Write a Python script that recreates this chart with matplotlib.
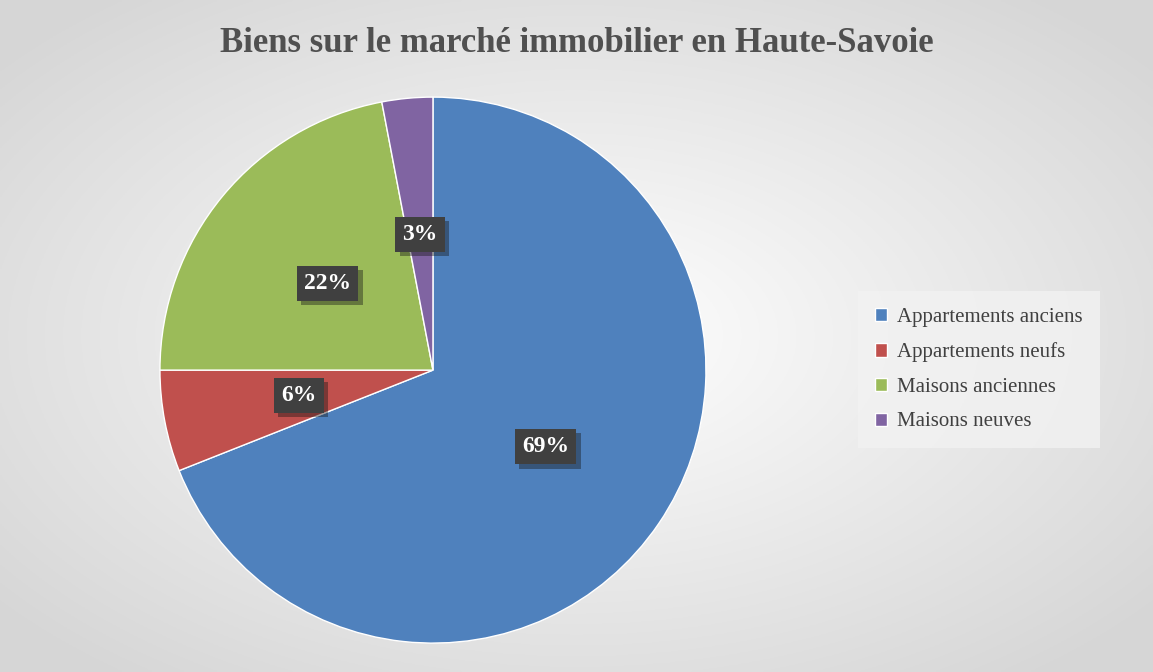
import numpy as np
import matplotlib.pyplot as plt
import matplotlib.patheffects as pe

labels = ['Appartements anciens', 'Appartements neufs', 'Maisons anciennes', 'Maisons neuves']
values = [69, 6, 22, 3]
colors = ['#4f81bd', '#c0504d', '#9bbb59', '#8064a2']

fig = plt.figure(figsize=(11.53, 6.72), dpi=100)

# radial gradient background
bg = fig.add_axes([0, 0, 1, 1])
yy, xx = np.mgrid[-1:1:300j, -1:1:500j]
r = np.sqrt(xx**2 + yy**2)
shade = 1.0 - 0.16 * np.clip(r / 1.3, 0, 1)
bg.imshow(np.dstack([shade] * 3), aspect='auto', extent=[0, 1, 0, 1])
bg.axis('off')

fig.text(0.5, 0.935, 'Biens sur le marché immobilier en Haute-Savoie', ha='center', va='center',
         fontsize=25, fontweight='bold', family='Liberation Serif', color='#505050')

ax = fig.add_axes([0.1387, 0.043, 0.4736, 0.8125])
wedges, _, autotexts = ax.pie(values, colors=colors, startangle=90, counterclock=False,
                              autopct='%1.0f%%', pctdistance=0.5,
                              wedgeprops=dict(edgecolor='white', linewidth=1))
for t in autotexts:
    t.set_color('white')
    t.set_fontsize(17)
    t.set_fontweight('bold')
    t.set_family('Liberation Serif')
    t.set_bbox(dict(boxstyle='square,pad=0.3', fc='#404040', ec='none'))
    t.get_bbox_patch().set_path_effects([pe.SimplePatchShadow(offset=(3, -3), alpha=0.4), pe.Normal()])
ax.set_xlim(-1, 1)
ax.set_ylim(-1, 1)
ax.set_aspect('equal')

leg = fig.legend(wedges, labels, loc='center left', bbox_to_anchor=(0.735, 0.45),
                 prop=dict(family='Liberation Serif', size=15), frameon=True,
                 fancybox=False, handlelength=0.6, handleheight=0.6, labelspacing=0.75,
                 borderpad=0.8, handletextpad=0.5)
leg.get_frame().set_facecolor('#f2f2f2')
leg.get_frame().set_edgecolor('none')
for t in leg.get_texts():
    t.set_color('#404040')

fig.savefig('out.png', dpi=100)
